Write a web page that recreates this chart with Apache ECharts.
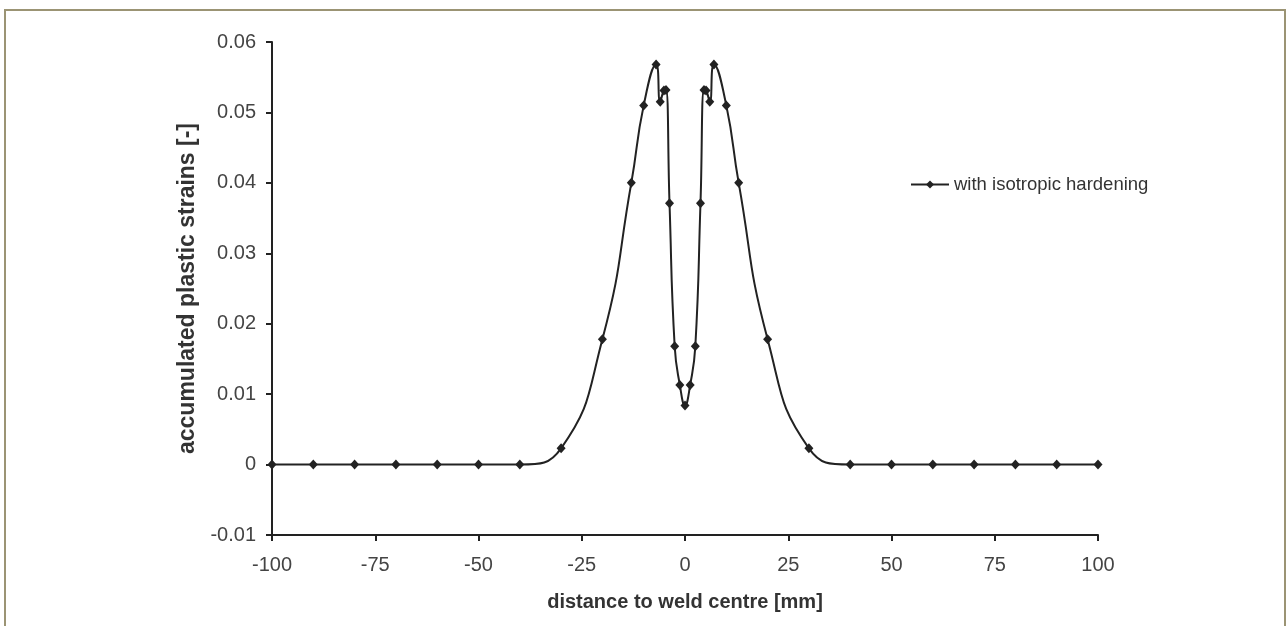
<!DOCTYPE html>
<html>
<head>
<meta charset="utf-8">
<script src="https://cdn.jsdelivr.net/npm/echarts@6/dist/echarts.min.js"></script>
<style>
html,body{margin:0;padding:0;background:#fff;}
#wrap{position:relative;width:1288px;height:626px;}
#chart{position:absolute;left:0;top:0;width:1288px;height:626px;}
#frame{position:absolute;left:4px;top:9px;width:1278px;height:640px;border:2px solid #9b9474;border-bottom:none;pointer-events:none;}
</style>
</head>
<body>
<div id="wrap"><div id="chart"></div><div id="frame"></div></div>
<script>
const distances = [-100,-90,-80,-70,-60,-50,-40,-30,-20,-13,-10,-7,-6,-5.1,-4.6,-3.75,-2.5,-1.25,0,1.25,2.5,3.75,4.6,5.1,6,7,10,13,20,30,40,50,60,70,80,90,100];
const strains = [0,0,0,0,0,0,0,0.0023,0.0178,0.0400,0.0510,0.0568,0.0515,0.0531,0.0532,0.0371,0.0168,0.0113,0.0084,0.0113,0.0168,0.0371,0.0532,0.0531,0.0515,0.0568,0.0510,0.0400,0.0178,0.0023,0,0,0,0,0,0,0];
const seriesName = 'with isotropic hardening';
const xTitle = 'distance to weld centre [mm]';
const yTitle = 'accumulated plastic strains [-]';

const points = distances.map((d, i) => [d, strains[i]]);
const chart = echarts.init(document.getElementById('chart'), null, {renderer: 'canvas'});
const font = 'Liberation Sans, Arial, sans-serif';
chart.setOption({
  animation: false,
  backgroundColor: '#fff',
  grid: {left: 272, top: 42, right: 190, bottom: 91, containLabel: false},
  legend: {
    left: 905, top: 170,
    itemWidth: 38, itemHeight: 10, itemGap: 8,
    textStyle: {fontFamily: font, fontSize: 18.5, color: '#333'},
    data: [seriesName]
  },
  xAxis: {
    type: 'value', min: -100, max: 100, interval: 25,
    name: xTitle, nameLocation: 'middle', nameGap: 57,
    nameTextStyle: {fontFamily: font, fontSize: 20, fontWeight: 'bold', color: '#333'},
    axisLine: {onZero: false, lineStyle: {color: '#222', width: 2}},
    axisTick: {show: true, inside: false, length: 6, lineStyle: {color: '#222', width: 2}},
    axisLabel: {fontFamily: font, fontSize: 20, color: '#444', margin: 20},
    splitLine: {show: false}
  },
  yAxis: {
    type: 'value', min: -0.01, max: 0.06, interval: 0.01,
    name: yTitle, nameLocation: 'middle', nameGap: 72, nameRotate: 90,
    nameTextStyle: {fontFamily: font, fontSize: 23, fontWeight: 'bold', color: '#333'},
    axisLine: {show: true, onZero: false, lineStyle: {color: '#222', width: 2}},
    axisTick: {show: true, inside: false, length: 6, lineStyle: {color: '#222', width: 2}},
    axisLabel: {fontFamily: font, fontSize: 20, color: '#444', margin: 16,
      formatter: v => String(Number(v.toFixed(2)))},
    splitLine: {show: false}
  },
  series: [{
    name: seriesName,
    type: 'line',
    data: points,
    smooth: 0.5,
    symbol: 'diamond',
    symbolSize: [9, 10],
    showAllSymbol: true,
    lineStyle: {color: '#222', width: 2},
    itemStyle: {color: '#222'},
    z: 5
  }]
});
</script>
</body>
</html>
